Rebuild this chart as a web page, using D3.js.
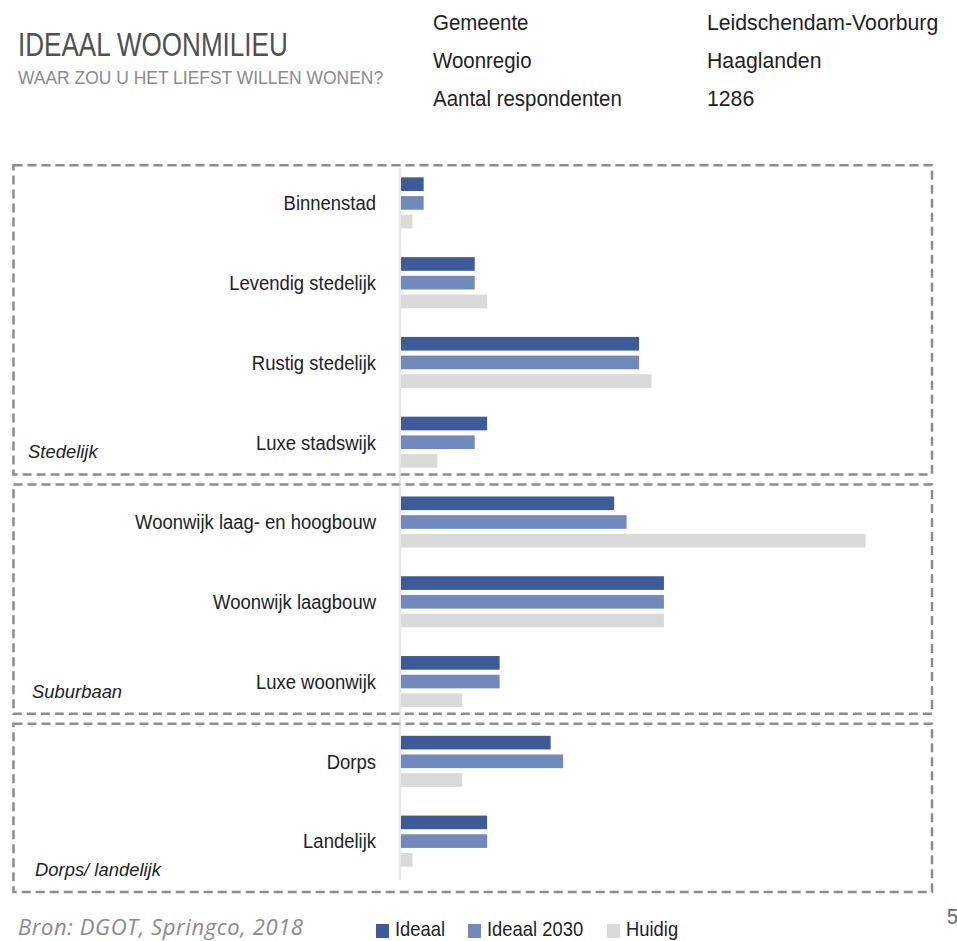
<!DOCTYPE html>
<html>
<head>
<meta charset="utf-8">
<script src="https://cdn.jsdelivr.net/npm/d3@7"></script>
<style>
  html, body { margin: 0; padding: 0; background: #fff; }
  #stage { width: 957px; height: 941px; }
</style>
</head>
<body>
<div id="stage"></div>
<script>
const categories = [
  "Binnenstad", "Levendig stedelijk", "Rustig stedelijk", "Luxe stadswijk",
  "Woonwijk laag- en hoogbouw", "Woonwijk laagbouw", "Luxe woonwijk",
  "Dorps", "Landelijk"
];
const seriesNames = ["Ideaal", "Ideaal 2030", "Huidig"];
const ideaal     = [1.9, 6.0, 19.2, 7.0, 17.2, 21.2, 8.0, 12.1, 7.0];
const ideaal2030 = [1.9, 6.0, 19.2, 6.0, 18.2, 21.2, 8.0, 13.1, 7.0];
const huidig     = [1.0, 7.0, 20.2, 3.0, 37.4, 21.2, 5.0, 5.0, 1.0];
const groups = [
  { name: "Stedelijk", first: 0, last: 3 },
  { name: "Suburbaan", first: 4, last: 6 },
  { name: "Dorps/ landelijk", first: 7, last: 8 }
];
const infoLabels = ["Gemeente", "Woonregio", "Aantal respondenten"];
const infoValues = ["Leidschendam-Voorburg", "Haaglanden", "1286"];

const colors = ["#3e5a97", "#7289bb", "#d9d9d9"];
const font = "'Liberation Sans', Arial, sans-serif";

const width = 957;
const height = 941;

const svg = d3.select("#stage")
  .append("svg")
  .attr("width", width)
  .attr("height", height)
  .attr("viewBox", `0 0 ${width} ${height}`);

// squeeze a text horizontally so it gets the narrow look of the original
function narrowText(x, y, str, size, sx, opts = {}) {
  const t = svg.append("text")
    .attr("transform", `translate(${x},${y}) scale(${sx},1)`)
    .attr("font-family", font)
    .attr("font-size", size + "px")
    .attr("fill", opts.fill || "#222")
    .attr("text-anchor", opts.anchor || "start")
    .text(str);
  if (opts.italic) t.attr("font-style", "italic");
  if (opts.dy) t.attr("dy", opts.dy);
  return t;
}

// header
narrowText(18, 56, "IDEAAL WOONMILIEU", 33, 0.79, { fill: "#505050" });
narrowText(18, 84, "WAAR ZOU U HET LIEFST WILLEN WONEN?", 18, 0.97, { fill: "#8a8a8a" });

infoLabels.forEach((t, i) => {
  narrowText(433, 30 + i * 38, t, 22, 0.93);
  narrowText(707, 30 + i * 38, infoValues[i], 22, 0.965);
});

// scales
const x = d3.scaleLinear().domain([0, 40]).range([400, 898]);

const y = d3.scaleBand()
  .domain(categories)
  .range([163, 881])
  .paddingInner(0.36)
  .paddingOuter(0.18);

const ySub = d3.scaleBand()
  .domain(seriesNames)
  .range([0, y.bandwidth()])
  .paddingInner(0.27);

const rows = categories.map((c, i) => ({
  cat: c,
  vals: [ideaal[i], ideaal2030[i], huidig[i]]
}));

// dashed group boxes
const labelX = [28, 32, 35];
groups.forEach((g, gi) => {
  const top = y(categories[g.first]) - 12;
  const bottom = gi < groups.length - 1
    ? y(categories[groups[gi + 1].first]) - 22
    : y.range()[1] + 11;
  svg.append("rect")
    .attr("x", 13.5).attr("y", top)
    .attr("width", 932 - 13.5).attr("height", bottom - top)
    .attr("fill", "none")
    .attr("stroke", "#8c8c8c")
    .attr("stroke-width", 2.5)
    .attr("stroke-dasharray", "9,5");
  narrowText(labelX[gi], bottom - 16, g.name, 19, 0.97, { italic: true });
});

// baseline
svg.append("line")
  .attr("x1", x(0)).attr("x2", x(0))
  .attr("y1", 168).attr("y2", 880)
  .attr("stroke", "#d0d0d0")
  .attr("stroke-width", 1);

// bars
const rowG = svg.selectAll("g.row")
  .data(rows)
  .join("g")
  .attr("class", "row")
  .attr("transform", d => `translate(0,${y(d.cat)})`);

rowG.selectAll("rect")
  .data(d => d.vals.map((v, j) => ({ v, s: seriesNames[j], j })))
  .join("rect")
  .attr("x", x(0) + 1)
  .attr("y", d => ySub(d.s))
  .attr("width", d => x(d.v) - x(0) - 1)
  .attr("height", ySub.bandwidth())
  .attr("fill", d => colors[d.j]);

// category labels
categories.forEach(c => {
  narrowText(376, y(c) + y.bandwidth() / 2, c, 21, 0.88, { anchor: "end", dy: "0.35em" });
});

// footer
svg.append("text")
  .attr("x", 18).attr("y", 935)
  .attr("font-family", "'Open Sans', sans-serif")
  .attr("font-style", "italic")
  .attr("font-size", "22px")
  .attr("letter-spacing", "0.6px")
  .attr("fill", "#8a8a8a")
  .text("Bron: DGOT, Springco, 2018");

const legendX = [376, 468, 607];
seriesNames.forEach((s, i) => {
  svg.append("rect")
    .attr("x", legendX[i]).attr("y", 924)
    .attr("width", 13).attr("height", 14)
    .attr("fill", colors[i]);
  narrowText(legendX[i] + 19, 936, s, 20, 0.92);
});

narrowText(947, 924, "5", 22, 0.9, { fill: "#666" });
</script>
</body>
</html>
